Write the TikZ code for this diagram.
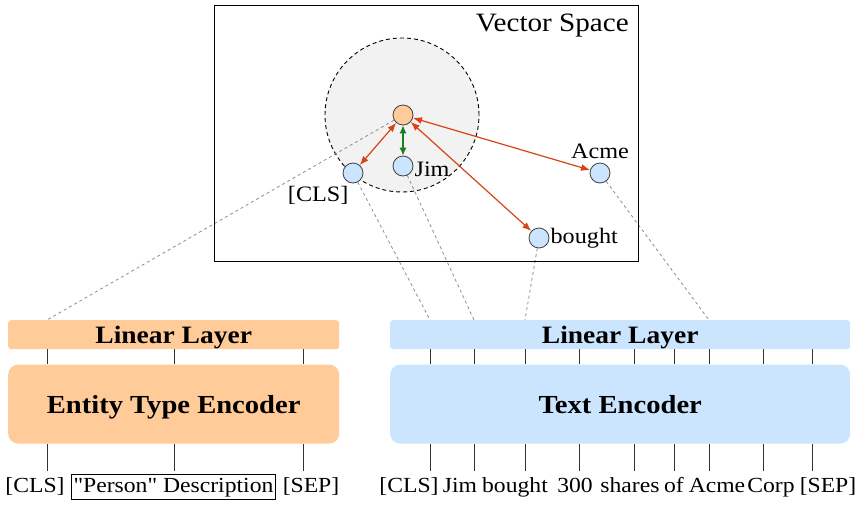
\documentclass[tikz,border=0pt]{standalone}
\usepackage{fontspec}
\setmainfont{Liberation Serif}[FakeStretch=1.1, Ligatures=TeXOff]
\usepackage{xcolor}
\usetikzlibrary{positioning, calc, backgrounds, arrows.meta}
\definecolor{entorange}{HTML}{FFCC99}
\definecolor{txtblue}{HTML}{CCE5FF}
\definecolor{simred}{HTML}{D84315}
\definecolor{simgreen}{HTML}{1E7D1E}
\tikzstyle{linear} = [rectangle, rounded corners=3pt, minimum height=29pt, inner sep=0pt, text depth=0pt, font=\fontsize{25}{28}\selectfont\bfseries]
\tikzstyle{encoder} = [rectangle, rounded corners=10pt, minimum height=79pt, inner sep=0pt, text depth=0pt, font=\fontsize{26}{30}\selectfont\bfseries]
\tikzstyle{token} = [anchor=north, inner xsep=2pt, inner ysep=2pt, text height=16pt, text depth=5pt, font=\fontsize{21.5}{25}\selectfont]
\tikzstyle{vec} = [circle, draw=black!75, fill=txtblue, line width=0.8pt, minimum size=20pt, inner sep=0pt]
\tikzstyle{lbl} = [inner sep=1pt, font=\fontsize{22}{26}\selectfont]
\tikzstyle{sim} = [draw=simred, line width=1.2pt, {Latex[length=9pt,width=7pt]}-{Latex[length=9pt,width=7pt]}]
\tikzstyle{tie} = [draw=simgreen, line width=1.2pt, {Latex[length=8pt,width=7pt]}-{Latex[length=8pt,width=7pt]}]
\tikzstyle{proj} = [draw=black!45, dashed, line width=0.8pt]
\tikzstyle{tick} = [draw=black!80, line width=0.9pt]

\begin{document}
\begin{tikzpicture}[x=1pt, y=-1pt]
\useasboundingbox (0,0) rectangle (865,504);

% Vector space
\node[draw, line width=1pt, minimum width=424pt, minimum height=256pt, inner sep=0pt, anchor=north west] (space) at (214,5) {};
\node[anchor=north east, inner sep=0pt, font=\fontsize{26.5}{30}\selectfont] (spacelbl) at ($(space.north east)+(-10,9)$) {Vector Space};

\node[vec, fill=entorange] (ent) at (403,115) {};
\node[vec] (vcls) at (353,173) {};
\node[vec] (vjim) at (403,166) {};
\node[vec] (vacme) at (600,173) {};
\node[vec] (vbought) at (539,238) {};

\node[lbl, below left=5pt and -4pt of vcls] (clslbl) {[CLS]};
\node[lbl, right=0pt of vjim, yshift=-3pt] (jimlbl) {Jim};
\node[lbl, above=3pt of vacme] (acmelbl) {Acme};
\node[lbl, right=0pt of vbought] (boughtlbl) {bought};

% Similarity arrows
\draw[sim] (ent) -- (vcls);
\draw[sim] (ent) -- (vacme);
\draw[sim] (ent) -- (vbought);
\draw[tie] (ent) -- (vjim);

% Encoders
\node[linear, fill=entorange, minimum width=331pt, anchor=north west] (linL) at (8,320) {Linear Layer};
\node[encoder, fill=entorange, minimum width=331pt, below=15pt of linL] (encL) {Entity Type Encoder};
\node[linear, fill=txtblue, minimum width=460pt, anchor=north west] (linR) at (390,320) {Linear Layer};
\node[encoder, fill=txtblue, minimum width=460pt, below=15pt of linR] (encR) {Text Encoder};

% Entity type tokens
\node[token] (e1) at (35,474) {[CLS]};
\node[token, draw, line width=0.8pt] (e2) at (173.5,474) {"Person" Description};
\node[token] (e3) at (311,474) {[SEP]};
\foreach \x [count=\i] in {47,174,303} {
  \coordinate (ek\i) at (\x,471);
  \draw[tick] (ek\i) -- (ek\i |- encL.south);
  \draw[tick] (ek\i |- encL.north) -- (ek\i |- linL.south);
}

% Text tokens
\foreach \x/\t [count=\i] in {409/{[CLS]}, 460/Jim, 515/bought, 575/300, 630/shares, 674/of, 717/Acme, 771/Corp, 828/{[SEP]}}
  \node[token] (w\i) at (\x,474) {\t};
\foreach \x [count=\i] in {430,474,525,579,634,674,709,763,812} {
  \coordinate (wk\i) at (\x,471);
  \draw[tick] (wk\i) -- (wk\i |- encR.south);
  \draw[tick] (wk\i |- encR.north) -- (wk\i |- linR.south);
}

\begin{pgfonlayer}{background}
\node[circle, draw, dash pattern=on 4pt off 3pt, fill=black!5, line width=0.9pt, minimum size=154pt] (region) at (402,115) {};
% Projections
\draw[proj] (ent) -- (ek1 |- linL.north);
\draw[proj] (vcls) -- (wk1 |- linR.north);
\draw[proj] (vjim) -- (wk2 |- linR.north);
\draw[proj] (vbought) -- (wk3 |- linR.north);
\draw[proj] (vacme) -- (wk7 |- linR.north);
\end{pgfonlayer}

\end{tikzpicture}
\end{document}
